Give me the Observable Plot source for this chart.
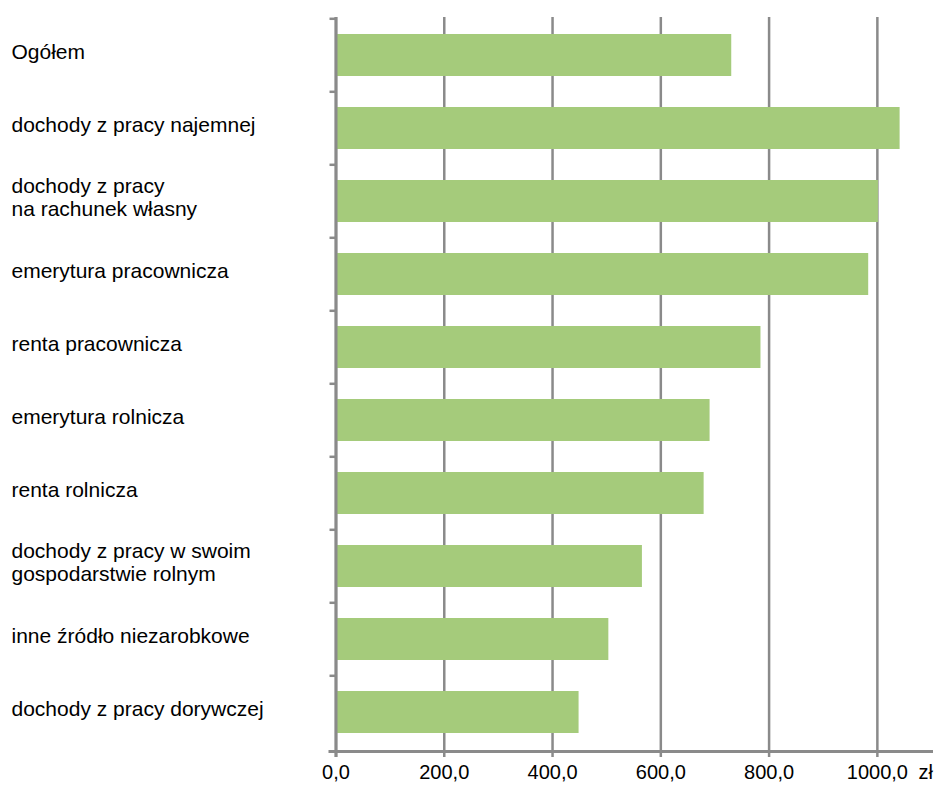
<!DOCTYPE html>
<html>
<head>
<meta charset="utf-8">
<script src="https://cdn.jsdelivr.net/npm/d3@7"></script>
<script src="https://cdn.jsdelivr.net/npm/@observablehq/plot@0.6"></script>
<style>
  html, body { margin: 0; padding: 0; background: white; overflow: hidden; }
</style>
</head>
<body>
<div id="chart"></div>
<script>
const categories = [
  "Ogółem",
  "dochody z pracy najemnej",
  "dochody z pracy\nna rachunek własny",
  "emerytura pracownicza",
  "renta pracownicza",
  "emerytura rolnicza",
  "renta rolnicza",
  "dochody z pracy w swoim\ngospodarstwie rolnym",
  "inne źródło niezarobkowe",
  "dochody z pracy dorywczej"
];
const values = [731, 1042, 1002, 984, 785, 691, 680, 566, 504, 449];
const xTicks = [0, 200, 400, 600, 800, 1000];
const unitLabel = ["zł"];

const data = categories.map((c, i) => ({category: c, value: values[i]}));
const gray = "#8a8a8a";
const fmt = d => d.toFixed(1).replace(".", ",");

const chart = Plot.plot({
  width: 937,
  height: 785,
  marginLeft: 335.5,
  marginRight: 6,
  marginTop: 17,
  marginBottom: 34,
  style: {fontFamily: "'Liberation Sans', Arial, sans-serif", background: "white", color: "black", display: "block"},
  x: {domain: [0, 1100], axis: null},
  y: {domain: categories, paddingInner: 0.42, paddingOuter: 0.21, axis: null},
  marks: [
    Plot.gridX(xTicks, {stroke: gray, strokeOpacity: 1, strokeWidth: 2.5}),
    Plot.barX(data, {x: "value", y: "category", fill: "#a5cb7b"}),
    Plot.ruleX([0], {stroke: gray, strokeWidth: 3, insetBottom: -6}),
    Plot.frame({anchor: "bottom", stroke: gray, strokeWidth: 3, insetLeft: -6}),
    Plot.axisX({ticks: xTicks, tickSize: 6, tickPadding: 7, tickFormat: fmt, fontSize: 20, stroke: gray, strokeWidth: 2.5, fill: "black", label: null}),
    Plot.axisY({tickSize: 6, stroke: gray, strokeWidth: 2.5, fill: "none", dy: -36.7, label: null}),
    Plot.text(categories, {y: d => d, text: d => d, frameAnchor: "left", textAnchor: "start", dx: -324.5, dy: -4, fontSize: 21, lineHeight: 1.1, fill: "black"}),
    Plot.text(unitLabel, {frameAnchor: "bottom-right", textAnchor: "start", lineAnchor: "top", dx: -13, dy: 13, fontSize: 20, fill: "black"})
  ]
});
document.getElementById("chart").appendChild(chart);
</script>
</body>
</html>
